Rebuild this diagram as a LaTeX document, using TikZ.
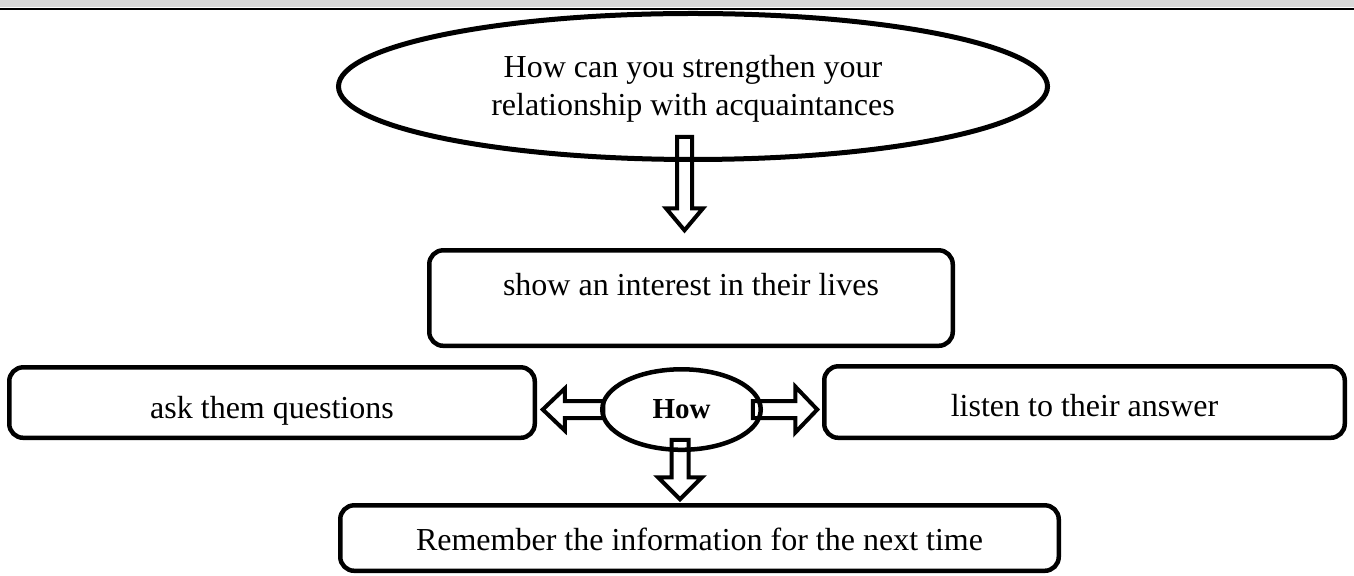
\documentclass[tikz,border=0pt]{standalone}
\usepackage{fontspec}
\setmainfont{Liberation Serif}
\usetikzlibrary{positioning, calc, shapes.geometric}

\tikzset{
  hollow/.style args={#1/#2}{line width=2pt, to path={
    let \p1=(\tikztostart), \p2=(\tikztotarget),
        \n1={atan2(\y2-\y1,\x2-\x1)}, \n2={veclen(\x2-\x1,\y2-\y1)-11} in
    ($(\p1)+(\n1+90:#1)$) -- ($(\p1)+(\n1:\n2)+(\n1+90:#1)$)
    -- ($(\p1)+(\n1:\n2)+(\n1+90:#2)$) -- (\p2)
    -- ($(\p1)+(\n1:\n2)+(\n1-90:#2)$)
    -- ($(\p1)+(\n1:\n2)+(\n1-90:#1)$) -- ($(\p1)+(\n1-90:#1)$) -- cycle}},
}

\begin{document}
\begin{tikzpicture}[
  box/.style={draw, rounded corners=7pt, line width=2.25pt, inner sep=0pt, outer sep=0pt, text depth=0pt, font=\fontsize{16}{19}\selectfont},
  oval/.style={draw, ellipse, line width=2.25pt, inner sep=0pt, outer sep=0pt}]
	\useasboundingbox (0,0) rectangle (677pt,-288pt);
	\fill[black!15] (0,0) rectangle (677pt,-3.6pt);
	\draw[line width=1.25pt] (0,-4.4pt) -- (677pt,-4.4pt);

	\node[oval, line width=2.5pt, minimum width=354.5pt, minimum height=73pt, align=center, text depth=1.5pt, font=\fontsize{16}{19}\selectfont] (q) at (346.5pt,-43.25pt) {How can you strengthen your\\relationship with acquaintances};
	\node[box, minimum width=261.75pt, minimum height=47.75pt, text height=11pt, text depth=14pt, below=45.4pt of q, xshift=-1pt] (s) {show an interest in their lives};
	\node[oval, minimum width=79.25pt, minimum height=40.25pt, font=\bfseries\fontsize{14.5}{17}\selectfont, below=11.75pt of s, xshift=-4.75pt] (h) {How};
	\node[box, minimum width=262.75pt, minimum height=35.25pt, text height=15.5pt, left=33.75pt of h, yshift=3.5pt] (a) {ask them questions};
	\node[box, minimum width=260.25pt, minimum height=35.75pt, text height=14pt, right=31.75pt of h, yshift=3.75pt] (l) {listen to their answer};
	\node[box, minimum width=359.25pt, minimum height=32.75pt, text height=12pt, below=27.75pt of h, xshift=9pt] (r) {Remember the information for the next time};

	\draw[hollow=3.75pt/9.25pt] ([xshift=-4.25pt,yshift=11.25pt]q.south) to ([xshift=-3.25pt,yshift=10pt]s.north);
	\draw[hollow=4.25pt/10.5pt] ([xshift=0.5pt]h.west) to ($(a.east |- h.west)+(4pt,0)$);
	\draw[hollow=4.25pt/11.5pt] ([xshift=-4pt]h.east) to ($(l.west |- h.east)+(-3.5pt,0)$);
	\draw[hollow=4.25pt/11pt] ([xshift=-0.75pt,yshift=5pt]h.south) to ($(h.south |- r.north)+(-0.75pt,3pt)$);
\end{tikzpicture}
\end{document}
